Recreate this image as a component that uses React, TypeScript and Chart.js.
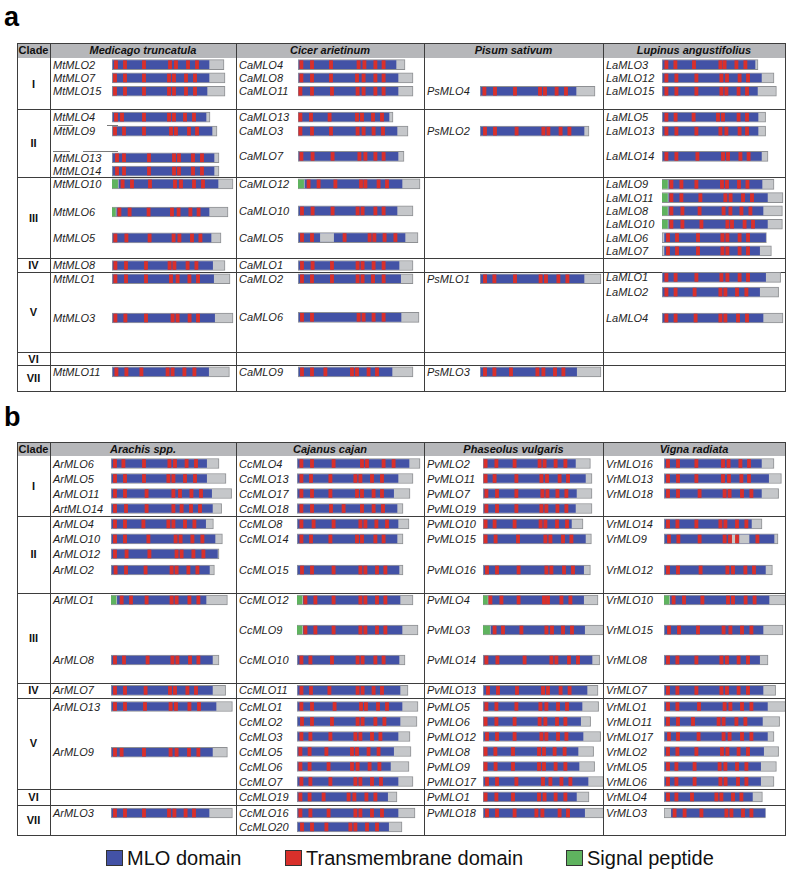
import React, { useEffect, useRef } from "react";
import { Chart, registerables } from "chart.js";

Chart.register(...registerables);

type Gene = {
  name: string;
  row: number;
  len: number;
  mlo: number;
  tm: number[];
  sp?: number;
  from?: number;
  gaps?: number[][];
};

// ---------- DATA (lengths / positions in amino acids, rows in table slots) ----------
const CLADES = ["I", "II", "III", "IV", "V", "VI", "VII"];
const TM_LEN = 16;

const speciesA = ["Medicago truncatula", "Cicer arietinum", "Pisum sativum", "Lupinus angustifolius"];
const speciesB = ["Arachis spp.", "Cajanus cajan", "Phaseolus vulgaris", "Vigna radiata"];

const cladeBoundsA = [0, 3.85, 8.95, 15.05, 16.1, 22.1, 23.1, 25.0];
const cladeBoundsB = [0, 4.0, 9.13, 15.13, 16.13, 22.2, 23.27, 25.27];

const medicago: Gene[] = [
  { name: "MtMLO2", row: 0.5, len: 560, mlo: 485, tm: [20, 65, 160, 290, 320, 380, 425] },
  { name: "MtMLO7", row: 1.5, len: 565, mlo: 485, tm: [15, 65, 160, 285, 310, 370, 415] },
  { name: "MtMLO15", row: 2.5, len: 565, mlo: 475, tm: [15, 65, 160, 285, 310, 370, 415] },
  { name: "MtMLO4", row: 4.45, len: 490, mlo: 470, tm: [20, 50, 160, 285, 310, 365, 410] },
  { name: "MtMLO9", row: 5.5, len: 525, mlo: 500, tm: [15, 60, 160, 295, 320, 385, 425] },
  { name: "MtMLO13", row: 7.5, len: 535, mlo: 510, tm: [25, 60, 185, 310, 335, 405, 450] },
  { name: "MtMLO14", row: 8.5, len: 535, mlo: 510, tm: [25, 60, 185, 310, 335, 405, 450] },
  { name: "MtMLO10", row: 9.47, len: 605, sp: 28, mlo: 530, tm: [53, 100, 190, 315, 345, 410, 455] },
  { name: "MtMLO6", row: 11.58, len: 580, sp: 17, mlo: 485, tm: [37, 88, 183, 300, 333, 392, 433] },
  { name: "MtMLO5", row: 13.53, len: 545, mlo: 495, tm: [17, 72, 188, 308, 337, 400, 442] },
  { name: "MtMLO8", row: 15.6, len: 565, mlo: 503, tm: [17, 70, 170, 288, 312, 378, 422] },
  { name: "MtMLO1", row: 16.6, len: 590, mlo: 508, tm: [17, 70, 170, 295, 328, 387, 430] },
  { name: "MtMLO3", row: 19.55, len: 605, mlo: 513, tm: [17, 67, 170, 303, 328, 388, 430] },
  { name: "MtMLO11", row: 23.6, len: 587, mlo: 483, tm: [22, 72, 147, 278, 303, 362, 412] },
];

const cicer: Gene[] = [
  { name: "CaMLO4", row: 0.5, len: 535, mlo: 490, tm: [17, 70, 165, 303, 332, 387, 428] },
  { name: "CaMLO8", row: 1.5, len: 575, mlo: 500, tm: [17, 70, 165, 295, 328, 387, 428] },
  { name: "CaMLO11", row: 2.5, len: 575, mlo: 500, tm: [12, 70, 170, 298, 328, 387, 428] },
  { name: "CaMLO13", row: 4.45, len: 475, mlo: 455, tm: [12, 65, 158, 295, 320, 375, 420] },
  { name: "CaMLO3", row: 5.5, len: 550, mlo: 495, tm: [12, 70, 165, 298, 328, 378, 425] },
  { name: "CaMLO7", row: 7.4, len: 530, mlo: 500, tm: [17, 73, 173, 307, 337, 387, 428] },
  { name: "CaMLO12", row: 9.47, len: 610, sp: 28, mlo: 520, tm: [53, 103, 187, 315, 337, 403, 445] },
  { name: "CaMLO10", row: 11.5, len: 575, mlo: 495, tm: [20, 73, 173, 298, 323, 387, 428] },
  { name: "CaMLO5", row: 13.5, len: 600, mlo: 535, gaps: [[112, 178]], tm: [20, 70, 233, 358, 382, 433, 487] },
  { name: "CaMLO1", row: 15.6, len: 575, mlo: 505, tm: [20, 73, 170, 298, 323, 378, 428] },
  { name: "CaMLO2", row: 16.6, len: 575, mlo: 513, tm: [20, 70, 170, 298, 323, 375, 428] },
  { name: "CaMLO6", row: 19.5, len: 605, mlo: 515, tm: [20, 70, 303, 328, 378, 428] },
  { name: "CaMLO9", row: 23.6, len: 575, mlo: 470, tm: [20, 70, 137, 270, 295, 353, 395] },
];

const pisum: Gene[] = [
  { name: "PsMLO4", row: 2.5, len: 575, mlo: 480, tm: [22, 75, 175, 300, 325, 383, 430] },
  { name: "PsMLO2", row: 5.5, len: 545, mlo: 520, tm: [25, 75, 183, 317, 342, 403, 447] },
  { name: "PsMLO1", row: 16.6, len: 605, mlo: 520, tm: [25, 72, 175, 303, 330, 392, 437] },
  { name: "PsMLO3", row: 23.6, len: 605, mlo: 483, tm: [25, 72, 155, 287, 317, 375, 417] },
];

const lupinus: Gene[] = [
  { name: "LaMLO3", row: 0.5, len: 480, mlo: 465, tm: [22, 67, 160, 292, 313, 372, 417] },
  { name: "LaMLO12", row: 1.5, len: 560, mlo: 497, tm: [22, 72, 172, 297, 325, 388, 430] },
  { name: "LaMLO15", row: 2.5, len: 572, mlo: 477, tm: [22, 72, 172, 297, 322, 383, 425] },
  { name: "LaMLO5", row: 4.45, len: 518, mlo: 480, tm: [22, 68, 158, 280, 305, 383, 425] },
  { name: "LaMLO13", row: 5.5, len: 518, mlo: 480, tm: [22, 72, 172, 292, 322, 388, 425] },
  { name: "LaMLO14", row: 7.4, len: 530, mlo: 497, tm: [22, 72, 177, 305, 330, 392, 433] },
  { name: "LaMLO9", row: 9.5, len: 560, sp: 27, mlo: 500, tm: [47, 97, 172, 300, 325, 385, 427] },
  { name: "LaMLO11", row: 10.5, len: 605, sp: 27, mlo: 527, tm: [47, 97, 192, 317, 343, 405, 450] },
  { name: "LaMLO8", row: 11.5, len: 602, sp: 27, mlo: 505, tm: [47, 102, 188, 308, 342, 397, 442] },
  { name: "LaMLO10", row: 12.5, len: 602, sp: 27, mlo: 527, tm: [47, 102, 197, 327, 350, 413, 455] },
  { name: "LaMLO6", row: 13.5, len: 522, from: 13, mlo: 518, tm: [30, 75, 180, 302, 327, 388, 430] },
  { name: "LaMLO7", row: 14.5, len: 547, from: 13, mlo: 488, tm: [30, 75, 180, 302, 327, 388, 430] },
  { name: "LaMLO1", row: 16.5, len: 593, mlo: 518, tm: [22, 68, 172, 297, 327, 388, 430] },
  { name: "LaMLO2", row: 17.6, len: 583, mlo: 488, tm: [22, 68, 163, 292, 317, 375, 422] },
  { name: "LaMLO4", row: 19.55, len: 605, mlo: 505, tm: [22, 68, 168, 292, 317, 380, 425] },
];

const arachis: Gene[] = [
  { name: "ArMLO6", row: 0.5, len: 540, mlo: 478, tm: [20, 62, 165, 292, 320, 378, 425] },
  { name: "ArMLO5", row: 1.5, len: 575, mlo: 478, tm: [20, 70, 165, 287, 312, 370, 420] },
  { name: "ArMLO11", row: 2.5, len: 603, mlo: 503, tm: [20, 70, 178, 312, 345, 402, 450] },
  { name: "ArtMLO14", row: 3.5, len: 553, mlo: 507, tm: [20, 75, 178, 312, 353, 400, 445] },
  { name: "ArMLO4", row: 4.53, len: 512, mlo: 473, tm: [20, 70, 162, 287, 312, 370, 417] },
  { name: "ArMLO10", row: 5.53, len: 557, mlo: 520, tm: [20, 70, 187, 323, 348, 407, 457] },
  { name: "ArMLO12", row: 6.53, len: 540, mlo: 532, tm: [20, 78, 192, 328, 353, 412, 462] },
  { name: "ArMLO2", row: 7.6, len: 517, mlo: 492, tm: [23, 75, 173, 303, 328, 387, 432] },
  { name: "ArMLO1", row: 9.6, len: 582, sp: 25, mlo: 475, tm: [53, 100, 178, 303, 328, 392, 437] },
  { name: "ArMLO8", row: 13.6, len: 540, mlo: 507, tm: [20, 65, 183, 307, 332, 395, 437] },
  { name: "ArMLO7", row: 15.63, len: 573, mlo: 507, tm: [20, 70, 173, 295, 320, 382, 425] },
  { name: "ArMLO13", row: 16.7, len: 607, mlo: 525, tm: [20, 70, 170, 298, 325, 392, 440] },
  { name: "ArMLO9", row: 19.75, len: 582, mlo: 507, tm: [20, 53, 165, 298, 328, 390, 437] },
  { name: "ArMLO3", row: 23.8, len: 607, mlo: 490, tm: [20, 70, 165, 290, 317, 373, 415] },
];

const cajanus: Gene[] = [
  { name: "CcMLO4", row: 0.5, len: 615, mlo: 560, tm: [22, 75, 183, 325, 350, 433, 483] },
  { name: "CcMLO13", row: 1.5, len: 580, mlo: 505, tm: [22, 70, 167, 292, 317, 375, 425] },
  { name: "CcMLO17", row: 2.5, len: 565, mlo: 483, tm: [22, 75, 167, 300, 325, 383, 425] },
  { name: "CcMLO18", row: 3.5, len: 530, mlo: 500, tm: [22, 75, 170, 233, 325, 383, 430] },
  { name: "CcMLO8", row: 4.53, len: 560, mlo: 505, tm: [22, 83, 183, 317, 342, 397, 450] },
  { name: "CcMLO14", row: 5.53, len: 530, mlo: 500, tm: [22, 70, 167, 300, 325, 392, 433] },
  { name: "CcMLO15", row: 7.6, len: 530, mlo: 510, tm: [25, 75, 183, 317, 342, 400, 442] },
  { name: "CcMLO12", row: 9.6, len: 580, sp: 25, mlo: 515, tm: [42, 92, 183, 317, 342, 400, 442] },
  { name: "CcMLO9", row: 11.6, len: 605, sp: 25, mlo: 525, tm: [42, 92, 183, 317, 342, 400, 442] },
  { name: "CcMLO10", row: 13.6, len: 540, mlo: 510, tm: [22, 67, 175, 303, 328, 392, 433] },
  { name: "CcMLO11", row: 15.63, len: 555, mlo: 515, tm: [22, 70, 162, 303, 328, 383, 425] },
  { name: "CcMLO1", row: 16.7, len: 605, mlo: 525, tm: [22, 75, 188, 320, 345, 405, 450] },
  { name: "CcMLO2", row: 17.7, len: 600, mlo: 515, tm: [25, 75, 175, 303, 328, 392, 437] },
  { name: "CcMLO3", row: 18.7, len: 565, mlo: 505, tm: [22, 67, 167, 292, 317, 375, 417] },
  { name: "CcMLO5", row: 19.7, len: 570, mlo: 483, tm: [17, 63, 147, 275, 300, 358, 408] },
  { name: "CcMLO6", row: 20.7, len: 560, mlo: 467, tm: [17, 63, 158, 275, 303, 363, 412] },
  { name: "CcMLO7", row: 21.7, len: 580, mlo: 505, tm: [22, 67, 167, 292, 317, 375, 420] },
  { name: "CcMLO19", row: 22.73, len: 500, mlo: 453, tm: [17, 63, 133, 258, 287, 347, 392] },
  { name: "CcMLO16", row: 23.8, len: 590, mlo: 505, tm: [17, 67, 158, 292, 317, 375, 425] },
  { name: "CcMLO20", row: 24.73, len: 525, mlo: 458, tm: [25, 75, 147, 267, 292, 350, 400] },
];

const phaseolus: Gene[] = [
  { name: "PvMLO2", row: 0.5, len: 537, mlo: 462, tm: [13, 67, 158, 283, 308, 363, 412] },
  { name: "PvMLO11", row: 1.5, len: 545, mlo: 512, tm: [13, 58, 167, 292, 320, 383, 425] },
  { name: "PvMLO7", row: 2.5, len: 545, mlo: 467, tm: [17, 70, 167, 297, 322, 372, 417] },
  { name: "PvMLO19", row: 3.5, len: 545, mlo: 462, tm: [17, 70, 167, 292, 317, 372, 417] },
  { name: "PvMLO10", row: 4.53, len: 500, mlo: 442, tm: [13, 58, 158, 288, 312, 370, 420] },
  { name: "PvMLO15", row: 5.53, len: 542, mlo: 512, tm: [13, 63, 175, 312, 337, 400, 442] },
  { name: "PvMLO16", row: 7.6, len: 537, mlo: 503, tm: [20, 70, 178, 317, 342, 405, 450] },
  { name: "PvMLO4", row: 9.6, len: 575, sp: 22, mlo: 503, tm: [37, 92, 178, 305, 325, 392, 437] },
  { name: "PvMLO3", row: 11.6, len: 603, sp: 33, mlo: 508, tm: [58, 100, 192, 317, 345, 400, 445] },
  { name: "PvMLO14", row: 13.6, len: 583, mlo: 545, tm: [17, 72, 208, 342, 367, 430, 475] },
  { name: "PvMLO13", row: 15.63, len: 575, mlo: 520, tm: [25, 75, 170, 300, 325, 388, 433] },
  { name: "PvMLO5", row: 16.7, len: 578, mlo: 495, tm: [17, 67, 167, 287, 317, 375, 420] },
  { name: "PvMLO6", row: 17.7, len: 538, mlo: 488, tm: [13, 67, 158, 283, 312, 370, 412] },
  { name: "PvMLO12", row: 18.7, len: 588, mlo: 500, tm: [20, 70, 158, 292, 317, 375, 417] },
  { name: "PvMLO8", row: 19.7, len: 553, mlo: 475, tm: [13, 62, 150, 280, 305, 358, 408] },
  { name: "PvMLO9", row: 20.7, len: 558, mlo: 480, tm: [13, 63, 150, 280, 305, 363, 412] },
  { name: "PvMLO17", row: 21.7, len: 603, mlo: 525, tm: [20, 70, 167, 300, 337, 392, 437] },
  { name: "PvMLO1", row: 22.73, len: 530, mlo: 467, tm: [13, 67, 150, 280, 308, 363, 412] },
  { name: "PvMLO18", row: 23.8, len: 603, mlo: 508, tm: [20, 70, 158, 267, 297, 383, 425] },
];

const vigna: Gene[] = [
  { name: "VrMLO16", row: 0.5, len: 550, mlo: 487, tm: [20, 70, 162, 295, 323, 382, 425] },
  { name: "VrMLO13", row: 1.5, len: 587, mlo: 523, tm: [20, 70, 162, 295, 325, 387, 425] },
  { name: "VrMLO18", row: 2.5, len: 573, mlo: 487, tm: [20, 70, 178, 303, 328, 390, 437] },
  { name: "VrMLO14", row: 4.53, len: 490, mlo: 437, tm: [20, 67, 162, 282, 307, 365, 412] },
  { name: "VrMLO9", row: 5.53, len: 570, mlo: 550, gaps: [[340, 358], [378, 425]], tm: [25, 72, 178, 303, 330, 365, 467] },
  { name: "VrMLO12", row: 7.6, len: 542, mlo: 507, tm: [20, 70, 183, 317, 345, 407, 450] },
  { name: "VrMLO10", row: 9.6, len: 608, sp: 25, mlo: 525, tm: [48, 100, 192, 320, 345, 408, 453] },
  { name: "VrMLO15", row: 11.6, len: 595, mlo: 495, tm: [25, 75, 170, 298, 332, 390, 437] },
  { name: "VrMLO8", row: 13.6, len: 520, mlo: 478, tm: [20, 67, 162, 287, 315, 373, 420] },
  { name: "VrMLO7", row: 15.63, len: 558, mlo: 495, tm: [20, 67, 162, 287, 315, 373, 420] },
  { name: "VrMLO1", row: 16.7, len: 608, mlo: 517, tm: [20, 67, 175, 303, 332, 390, 437] },
  { name: "VrMLO11", row: 17.7, len: 578, mlo: 492, tm: [20, 70, 145, 273, 298, 362, 407] },
  { name: "VrMLO17", row: 18.7, len: 550, mlo: 517, tm: [25, 70, 173, 298, 328, 390, 437] },
  { name: "VrMLO2", row: 19.7, len: 573, mlo: 498, tm: [20, 67, 162, 290, 317, 373, 420] },
  { name: "VrMLO5", row: 20.7, len: 562, mlo: 483, tm: [20, 62, 153, 278, 307, 365, 412] },
  { name: "VrMLO6", row: 21.7, len: 550, mlo: 483, tm: [20, 62, 153, 282, 308, 370, 412] },
  { name: "VrMLO4", row: 22.73, len: 492, mlo: 442, tm: [20, 62, 140, 262, 287, 345, 387] },
  { name: "VrMLO3", row: 23.8, len: 507, from: 37, mlo: 505, tm: [53, 103, 187, 312, 337, 395, 437] },
];

const legendLabels = ["MLO domain", "Transmembrane domain", "Signal peptide"];

// ---------- STYLE / LAYOUT ----------
const BLUE = "#4352a6";
const RED = "#d9302b";
const GREEN = "#5fb35f";
const GREY = "#c5c7ca";
const GREY_BORDER = "#8e9093";
const HEADER_BG = "#b6b7ba";
const LINE = "#3d3d3d";
const FONT = '"Liberation Sans", Arial, Helvetica, sans-serif';
const AA_PER_PX = 5;
const COL_X = [17, 50, 236, 424, 603, 785];

type PanelCfg = {
  letter: string;
  letterTop: number;
  tableTop: number;
  headerH: number;
  rowH: number;
  bounds: number[];
  species: string[];
  columns: Gene[][];
  barStart: number[];
};

const panels: PanelCfg[] = [
  {
    letter: "a",
    letterTop: 4,
    tableTop: 43,
    headerH: 15,
    rowH: 13.3,
    bounds: cladeBoundsA,
    species: speciesA,
    columns: [medicago, cicer, pisum, lupinus],
    barStart: [112, 298, 480, 662],
  },
  {
    letter: "b",
    letterTop: 404,
    tableTop: 442,
    headerH: 14,
    rowH: 15,
    bounds: cladeBoundsB,
    species: speciesB,
    columns: [arachis, cajanus, phaseolus, vigna],
    barStart: [111, 297, 483, 664],
  },
];

function DomainChart(props: { genes: Gene[]; left: number; top: number; width: number; height: number; rows: number }) {
  const { genes, left, top, width, height, rows } = props;
  const ref = useRef<HTMLCanvasElement | null>(null);
  useEffect(() => {
    if (!ref.current) return;
    const greyData = genes.map((g) => ({ x: [0, g.len], y: g.row }));
    const blueData = genes.map((g) => ({
      x: [g.from !== undefined ? g.from : g.sp ? g.sp + 7 : 5, g.mlo],
      y: g.row,
    }));
    const gapData = genes.flatMap((g) => (g.gaps || []).map((r) => ({ x: [r[0], r[1]], y: g.row })));
    const greenData = genes.filter((g) => g.sp).map((g) => ({ x: [0, g.sp as number], y: g.row }));
    const redData = genes.flatMap((g) =>
      g.tm.map((t) => ({ x: [t - TM_LEN / 2, t + TM_LEN / 2], y: g.row }))
    );
    const common = { grouped: false, borderSkipped: false as const };
    const chart = new Chart(ref.current, {
      type: "bar",
      data: {
        datasets: [
          { label: "Transmembrane domain", data: redData as any, backgroundColor: RED, barThickness: 8, order: 0, borderWidth: 0, ...common },
          { label: "gap", data: gapData as any, backgroundColor: GREY, barThickness: 8, order: 1, borderWidth: 0, ...common },
          { label: "Signal peptide", data: greenData as any, backgroundColor: GREEN, barThickness: 8, order: 2, borderWidth: 0, ...common },
          { label: "MLO domain", data: blueData as any, backgroundColor: BLUE, barThickness: 8, order: 3, borderWidth: 0, ...common },
          { label: "protein", data: greyData as any, backgroundColor: GREY, borderColor: GREY_BORDER, borderWidth: 1, barThickness: 10, order: 4, ...common },
        ],
      },
      options: {
        indexAxis: "y",
        animation: false,
        responsive: false,
        maintainAspectRatio: false,
        events: [],
        layout: { padding: 0 },
        plugins: { legend: { display: false }, tooltip: { enabled: false } },
        scales: {
          x: { type: "linear", min: 0, max: width * AA_PER_PX, display: false, offset: false },
          y: { type: "linear", min: 0, max: rows, reverse: true, display: false, offset: false },
        },
      } as any,
    });
    return () => chart.destroy();
  }, []);
  return (
    <canvas
      ref={ref}
      width={width}
      height={height}
      style={{ position: "absolute", left, top, width, height, display: "block" }}
    />
  );
}

function Panel({ cfg }: { cfg: PanelCfg }) {
  const rows = cfg.bounds[cfg.bounds.length - 1];
  const bodyTop = cfg.tableTop + cfg.headerH;
  const bodyH = rows * cfg.rowH;
  const tableH = cfg.headerH + bodyH;
  const yOf = (r: number) => bodyTop + r * cfg.rowH;
  const els: React.ReactNode[] = [];

  els.push(
    <div key="letter" style={{ position: "absolute", left: 4, top: cfg.letterTop, fontFamily: FONT, fontWeight: "bold", fontSize: 27, lineHeight: 1, color: "#000" }}>
      {cfg.letter}
    </div>
  );
  // header background
  els.push(
    <div key="hdr" style={{ position: "absolute", left: COL_X[0], top: cfg.tableTop, width: COL_X[5] - COL_X[0], height: cfg.headerH, background: HEADER_BG }} />
  );
  // header texts
  const headers = ["Clade", ...cfg.species];
  headers.forEach((h, i) => {
    els.push(
      <div
        key={"h" + i}
        style={{
          position: "absolute",
          left: COL_X[i],
          width: COL_X[i + 1] - COL_X[i],
          top: cfg.tableTop,
          height: cfg.headerH,
          lineHeight: cfg.headerH + "px",
          textAlign: "center",
          fontFamily: FONT,
          fontWeight: "bold",
          fontStyle: i === 0 ? "normal" : "italic",
          fontSize: 11,
          color: "#111",
          whiteSpace: "nowrap",
        }}
      >
        {h}
      </div>
    );
  });
  // horizontal clade lines
  cfg.bounds.slice(1, -1).forEach((b, i) => {
    els.push(
      <div key={"hl" + i} style={{ position: "absolute", left: COL_X[0], width: COL_X[5] - COL_X[0], top: Math.round(yOf(b)), height: 1, background: LINE }} />
    );
  });
  // vertical column lines
  COL_X.slice(1, -1).forEach((x, i) => {
    els.push(
      <div key={"vl" + i} style={{ position: "absolute", left: x, top: cfg.tableTop, width: 1, height: tableH, background: LINE }} />
    );
  });
  // outer border
  els.push(
    <div
      key="outer"
      style={{ position: "absolute", left: COL_X[0], top: cfg.tableTop, width: COL_X[5] - COL_X[0] + 1, height: tableH + 1, border: `1px solid ${LINE}`, boxSizing: "border-box" }}
    />
  );
  // clade labels
  CLADES.forEach((c, i) => {
    const mid = (yOf(cfg.bounds[i]) + yOf(cfg.bounds[i + 1])) / 2;
    els.push(
      <div
        key={"c" + i}
        style={{
          position: "absolute",
          left: COL_X[0],
          width: COL_X[1] - COL_X[0],
          top: mid,
          transform: "translateY(-50%)",
          textAlign: "center",
          fontFamily: FONT,
          fontWeight: "bold",
          fontSize: 11,
          color: "#111",
        }}
      >
        {c}
      </div>
    );
  });
  // gene labels + charts
  cfg.columns.forEach((genes, ci) => {
    const colLeft = COL_X[ci + 1];
    const colRight = COL_X[ci + 2];
    genes.forEach((g) => {
      els.push(
        <div
          key={"g" + g.name}
          style={{
            position: "absolute",
            left: colLeft + 3,
            top: yOf(g.row),
            transform: "translateY(-50%)",
            fontFamily: FONT,
            fontStyle: "italic",
            fontSize: 11,
            color: "#1e1e1e",
            whiteSpace: "nowrap",
          }}
        >
          {g.name}
        </div>
      );
    });
    const bx = cfg.barStart[ci];
    els.push(
      <DomainChart
        key={"chart" + ci}
        genes={genes}
        left={bx}
        top={bodyTop}
        width={colRight - bx}
        height={Math.round(bodyH)}
        rows={Math.round(bodyH) / cfg.rowH}
      />
    );
  });
  return <>{els}</>;
}

export default function App() {
  const legendColors = [BLUE, RED, GREEN];
  const legendX = [106, 285, 566];
  return (
    <div style={{ position: "absolute", left: 0, top: 0, width: 787, height: 873, overflow: "hidden", background: "#fff" }}>
      {panels.map((p, i) => (
        <Panel key={i} cfg={p} />
      ))}
      {/* stray annotation strokes in clade II of Medicago column */}
      <div style={{ position: "absolute", left: 58, top: 125, width: 15, height: 1, background: "#7a7a7a" }} />
      <div style={{ position: "absolute", left: 107, top: 125, width: 11, height: 1, background: "#7a7a7a" }} />
      <div style={{ position: "absolute", left: 53, top: 151, width: 17, height: 1, background: "#7a7a7a" }} />
      <div style={{ position: "absolute", left: 83, top: 151, width: 35, height: 1, background: "#7a7a7a" }} />
      {legendLabels.map((l, i) => (
        <React.Fragment key={l}>
          <div
            style={{ position: "absolute", left: legendX[i], top: 850, width: 17, height: 16, background: legendColors[i], border: "1px solid #333", boxSizing: "border-box" }}
          />
          <div
            style={{ position: "absolute", left: legendX[i] + 21, top: 858, transform: "translateY(-50%)", fontFamily: FONT, fontSize: 20, color: "#111", whiteSpace: "nowrap" }}
          >
            {l}
          </div>
        </React.Fragment>
      ))}
    </div>
  );
}
